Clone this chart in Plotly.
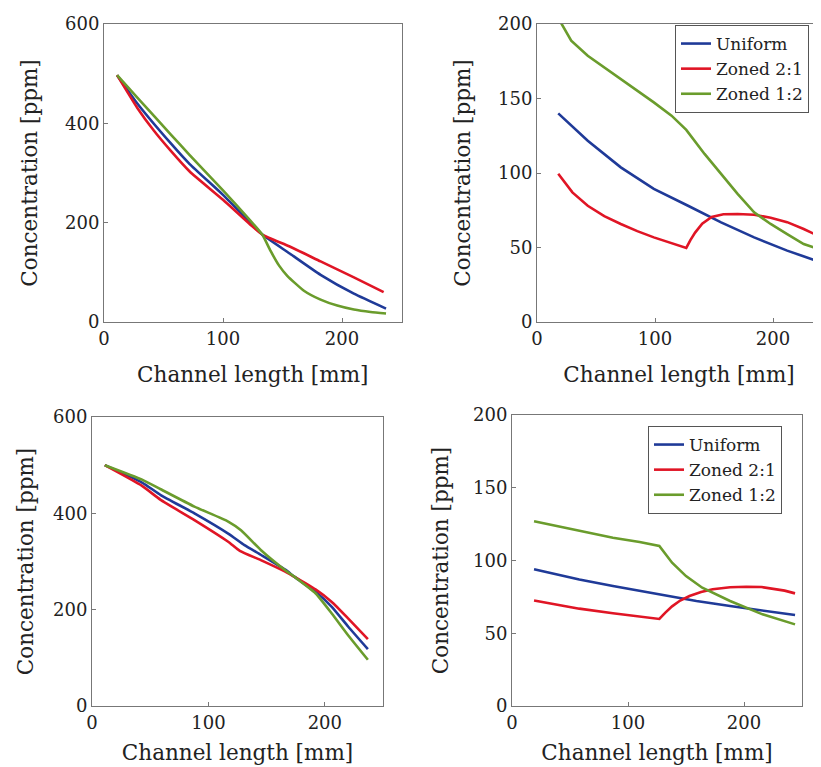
import plotly.graph_objects as go

# ---------------- data ----------------
series_names = ["Uniform", "Zoned 2:1", "Zoned 1:2"]
series_colors = ["#1f3a98", "#e01525", "#6a9c2c"]

x_ticks = [0, 100, 200]
y_ticks_big = [0, 200, 400, 600]
y_ticks_small = [0, 50, 100, 150, 200]

# top-left panel
tl_uniform_x = [11, 28, 56, 72, 100, 123, 133, 156, 182, 210, 237]
tl_uniform_y = [497, 440, 360, 318, 256, 200, 176, 138, 95, 57, 27]
tl_zoned21_x = [11, 28, 42, 56, 72, 100, 123, 133, 156, 182, 210, 235]
tl_zoned21_y = [497, 431, 385, 345, 303, 246, 196, 176, 152, 122, 90, 60]
tl_zoned12_x = [11, 28, 56, 72, 100, 123, 133, 140, 147, 154, 168, 182, 196, 210, 224, 237]
tl_zoned12_y = [497, 452, 378, 336, 265, 204, 176, 143, 114, 93, 63, 45, 33, 25, 20, 17]

# top-right panel
tr_uniform_x = [18, 43, 71, 99, 128, 156, 184, 212, 241]
tr_uniform_y = [140, 121.7, 103.8, 89.3, 78, 66.9, 56.8, 47.9, 40]
tr_zoned21_x = [18, 30, 43, 57, 71, 85, 99, 113, 126.5, 130, 134, 140, 148, 158, 170, 184, 198, 212, 226, 241]
tr_zoned21_y = [99.5, 87, 78, 71, 65.8, 61, 56.8, 53, 49.7, 55, 60, 66, 70.5, 72.3, 72.5, 72, 70, 67, 62.4, 56.8]
tr_zoned12_x = [18, 29, 43, 57, 71, 85, 99, 114, 126.5, 142, 156, 170, 184, 198, 212, 226, 241]
tr_zoned12_y = [204, 188.8, 178.7, 171, 163, 155, 147.4, 138.5, 128.9, 112.8, 99.3, 86, 73.6, 65.8, 59, 52.3, 48.3]

# bottom-left panel
bl_uniform_x = [11, 43, 59, 88, 117, 131, 145, 166, 174, 192, 206, 220, 237]
bl_uniform_y = [500, 464, 438, 400, 358, 334, 314, 283, 268, 237, 206, 165, 118]
bl_zoned21_x = [11, 43, 59, 88, 117, 127, 145, 166, 174, 192, 206, 220, 237]
bl_zoned21_y = [500, 457, 428, 386, 341, 322, 303, 279, 268, 242, 216, 182, 139]
bl_zoned12_x = [11, 43, 59, 88, 117, 128, 145, 166, 174, 192, 206, 220, 237]
bl_zoned12_y = [500, 470, 450, 414, 383, 365, 324, 282, 268, 234, 192, 147, 96]

# bottom-right panel
br_uniform_x = [19, 58, 87, 127, 159, 188, 217, 244]
br_uniform_y = [94, 87, 82.5, 76.7, 72.2, 68.7, 65.3, 62.5]
br_zoned21_x = [19, 58, 87, 127, 132, 138, 145, 153, 163, 173, 188, 202, 215, 225, 235, 244]
br_zoned21_y = [72.5, 66.9, 63.7, 59.8, 64, 68.5, 72.5, 75.6, 78.3, 80.2, 81.6, 82, 81.8, 80.6, 79.3, 77.4]
br_zoned12_x = [19, 58, 87, 110, 127, 138, 150, 164, 188, 216, 244]
br_zoned12_y = [127, 120.3, 115.7, 112.7, 110, 98.5, 89.3, 81.3, 72.2, 63, 56.1]

panels = [
    (tl_uniform_x, tl_uniform_y, tl_zoned21_x, tl_zoned21_y, tl_zoned12_x, tl_zoned12_y),
    (tr_uniform_x, tr_uniform_y, tr_zoned21_x, tr_zoned21_y, tr_zoned12_x, tr_zoned12_y),
    (bl_uniform_x, bl_uniform_y, bl_zoned21_x, bl_zoned21_y, bl_zoned12_x, bl_zoned12_y),
    (br_uniform_x, br_uniform_y, br_zoned21_x, br_zoned21_y, br_zoned12_x, br_zoned12_y),
]

# ---------------- layout geometry ----------------
W, H = 821, 767
OFF = 8  # page body margin
# (left, right, top, bottom) in window pixels
boxes = [
    (104, 401.5, 24, 322),
    (537, 821, 24, 322),
    (92, 383, 417, 706),
    (512, 802, 415, 706),
]
x_ranges = [[0, 250], [0, (821 - 537) / 1.18], [0, 250], [0, 250]]
y_ranges = [[0, 600], [0, 200], [0, 600], [0, 200]]
smooth = ["spline", "linear", "spline", "linear"]
legend_of = [None, "legend", None, "legend2"]
x_standoff = [19, 19, 13, 13]
y_standoff = [21, 21, 13, 18]

FONT = "DejaVu Serif"
fig = go.Figure()

for i, p in enumerate(panels):
    xa = "x" if i == 0 else f"x{i+1}"
    ya = "y" if i == 0 else f"y{i+1}"
    for k in range(3):
        tr = dict(
            x=p[2 * k], y=p[2 * k + 1], mode="lines", name=series_names[k],
            line=dict(color=series_colors[k], width=2.6, shape=smooth[i], smoothing=0.5),
            xaxis=xa, yaxis=ya, showlegend=legend_of[i] is not None,
        )
        if legend_of[i] is not None:
            tr["legend"] = legend_of[i]
        fig.add_trace(go.Scatter(**tr))

layout = dict(
    width=W, height=H, margin=dict(l=0, r=0, t=0, b=0, autoexpand=False),
    paper_bgcolor="white", plot_bgcolor="white",
    font=dict(family=FONT, size=18, color="#222"),
)
for i, (l, r, t, b) in enumerate(boxes):
    l, r, t, b = l - OFF, r - OFF, t - OFF, b - OFF
    sfx = "" if i == 0 else str(i + 1)
    yt = y_ticks_big if y_ranges[i][1] == 600 else y_ticks_small
    layout["xaxis" + sfx] = dict(
        domain=[l / W, r / W], range=x_ranges[i], anchor="y" + sfx, automargin=False,
        tickvals=x_ticks, ticks="inside", ticklen=4, tickcolor="#777",
        showline=True, linecolor="#777", linewidth=1, mirror=True,
        showgrid=False, zeroline=False, tickfont=dict(size=18, family=FONT),
        title=dict(text="Channel length [mm]", font=dict(size=21.5, family=FONT),
                   standoff=x_standoff[i]),
    )
    layout["yaxis" + sfx] = dict(
        domain=[1 - b / H, 1 - t / H], range=y_ranges[i], anchor="x" + sfx, automargin=False,
        tickvals=yt, ticks="inside", ticklen=4, tickcolor="#777",
        showline=True, linecolor="#777", linewidth=1, mirror=(i != 1),
        showgrid=False, zeroline=False, tickfont=dict(size=18, family=FONT),
        title=dict(text="Concentration [ppm]", font=dict(size=21.5, family=FONT),
                   standoff=y_standoff[i]),
    )

layout["legend"] = dict(
    x=(675 - OFF) / W, y=1 - (25 - OFF) / H, xanchor="left", yanchor="top",
    bgcolor="white", bordercolor="#555", borderwidth=1,
    font=dict(family=FONT, size=17, color="#222"), tracegroupgap=0,
)
layout["legend2"] = dict(
    x=(648 - OFF) / W, y=1 - (426 - OFF) / H, xanchor="left", yanchor="top",
    bgcolor="white", bordercolor="#555", borderwidth=1,
    font=dict(family=FONT, size=17, color="#222"), tracegroupgap=0,
)
fig.update_layout(**layout)
fig.write_html("out.html")
